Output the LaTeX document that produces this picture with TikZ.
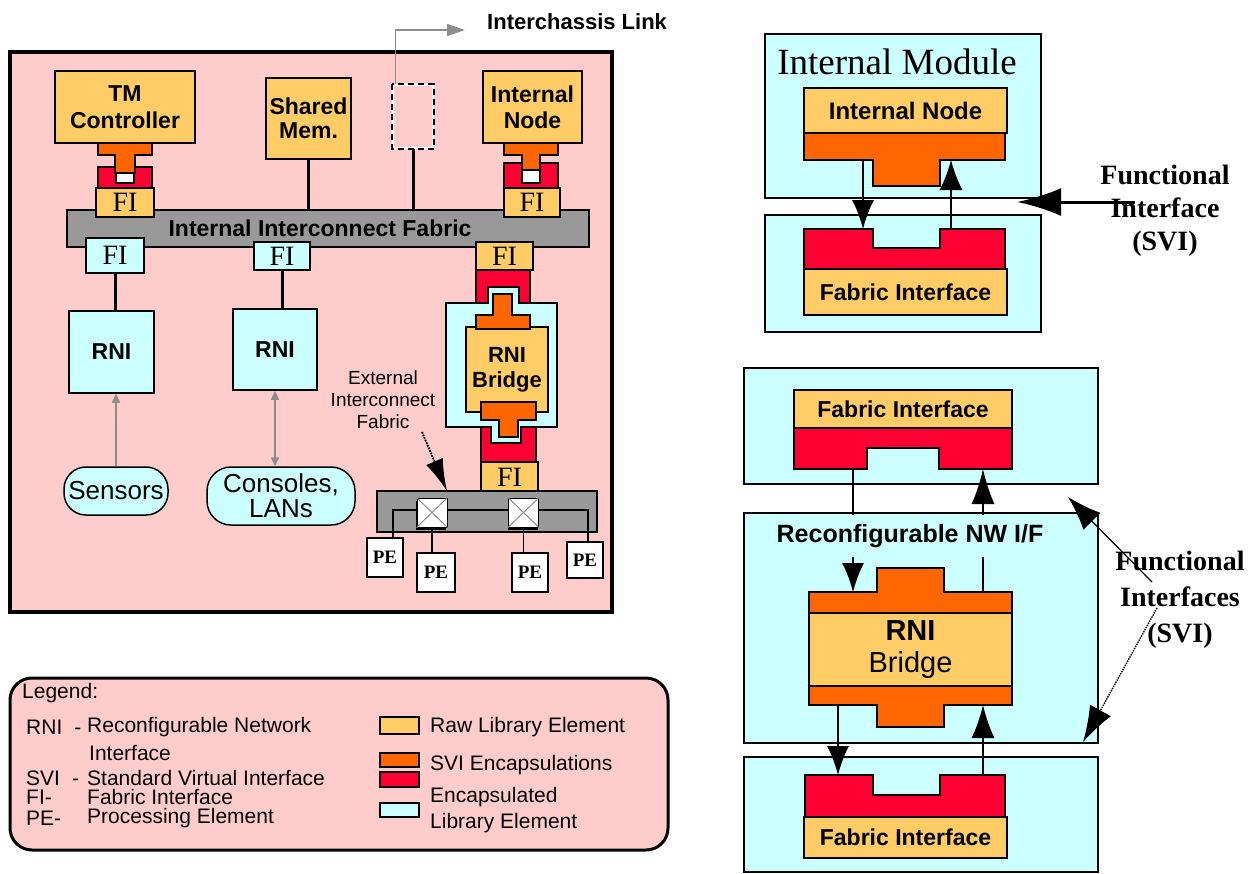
\documentclass[tikz,border=0pt]{standalone}
\usepackage{fontspec}
\setmainfont{Liberation Serif}
\setsansfont{Liberation Sans}
\usetikzlibrary{arrows.meta,calc,shadows}

\definecolor{chassis}{RGB}{255,204,204}
\definecolor{rawlib}{RGB}{255,204,102}
\definecolor{svio}{RGB}{255,102,0}
\definecolor{svir}{RGB}{255,0,51}
\definecolor{encap}{RGB}{204,255,255}
\definecolor{fabgrey}{RGB}{153,153,153}
\definecolor{linkgrey}{RGB}{140,140,140}

\newcommand{\setfsz}[2]{\fontsize{#1}{#2}\selectfont}

\tikzset{
  blk/.style={draw, line width=1.5pt, inner sep=0pt, align=center},
  dims/.style 2 args={minimum width=#1pt, minimum height=#2pt},
  rawbox/.style={blk, fill=rawlib},
  encbox/.style={blk, fill=encap},
  greybar/.style={blk, fill=fabgrey},
  pebox/.style={blk, fill=white, font=\bfseries\setfsz{19}{19}},
  swbox/.style={blk, fill=white, line width=1pt, dims={30}{29},
    general shadow={fill=black, shadow xshift=-1pt, shadow yshift=-2.5pt}},
  boldlbl/.style={font=\sffamily\bfseries\setfsz{23}{27}},
  plainlbl/.style={font=\sffamily\setfsz{26}{25}},
  filbl/.style={font=\setfsz{28}{28}},
  wideboldlbl/.style={font=\sffamily\bfseries\setfsz{23}{23}},
  svishape/.style={draw, line width=1.5pt, fill=svio},
  redshape/.style={draw, line width=1.5pt, fill=svir},
  wire/.style={line width=3pt},
  thinwire/.style={line width=1.5pt},
  greyarrow/.style={draw=linkgrey, line width=1.5pt, -{Triangle[length=9pt,width=8pt]}},
  bighead/.style={line width=1.5pt, -{Latex[length=29pt,width=22pt]}},
  legtext/.style={font=\sffamily\setfsz{21}{21}, anchor=west, inner sep=0pt},
  swatch/.style={blk},
  fnlbl/.style={font=\bfseries\setfsz{28}{33}, align=center, inner sep=0pt},
}

\begin{document}
\begin{tikzpicture}[x=1pt,y=-1pt]
\useasboundingbox (0,0) rectangle (1252,873);
\fill[white] (0,0) rectangle (1252,873);

%% ================= chassis =================
\node[draw, line width=4pt, fill=chassis, inner sep=0pt, dims={602}{560}] (chassis) at (311,332) {};

% interchassis link placeholder
\node[draw=white, line width=1.5pt, inner sep=0pt, dims={40}{63}] (xlink) at (413,116.5) {};
\draw[line width=1.8pt, dash pattern=on 6pt off 4pt] (xlink.north west) rectangle (xlink.south east);
\coordinate (xlinkEnd) at (465,30);
\draw[greyarrow, -{Triangle[length=18pt,width=12pt]}] ($(xlink.north west)+(3,0)$) |- (xlinkEnd);
\node[font=\sffamily\bfseries\setfsz{22}{22}, anchor=west, inner sep=0pt] (xlinklbl) at (487,22) {Interchassis Link};

% library elements on the internal fabric
\node[rawbox, dims={140}{72}, boldlbl] (tmc) at (125,107) {TM\\Controller};
\node[rawbox, dims={85}{81}, font=\sffamily\bfseries\setfsz{23}{24}] (shm) at (308.5,118.5) {Shared\\Mem.};
\node[rawbox, dims={99}{72}, font=\sffamily\bfseries\setfsz{23}{26}] (inodeL) at (532.5,107) {Internal\\Node};

\node[greybar, dims={522}{37}, wideboldlbl] (ifab) at (328,228.5) {\hspace*{-16pt}Internal Interconnect Fabric};

\draw[wire] (shm.south) -- (shm.south |- ifab.north);
\draw[wire] (xlink.south) -- (xlink.south |- ifab.north);

% SVI stack under the TM controller
\fill[white] (116,167) rectangle (134,183);
\draw[redshape] (98,167) -- (116,167) -- (116,183) -- (134,183) -- (134,167) -- (152,167) -- (152,188) -- (98,188) -- cycle;
\draw[svishape] (98,143) -- (152,143) -- (152,155) -- (135,155) -- (135,173) -- (115,173) -- (115,155) -- (98,155) -- cycle;
\node[rawbox, dims={58}{29}, filbl] (fiTM) at (125,202.5) {FI};

% SVI stack under the internal node
\fill[white] (522,163) rectangle (540,183);
\draw[redshape] (504,163) -- (522,163) -- (522,183) -- (540,183) -- (540,163) -- (558,163) -- (558,190) -- (504,190) -- cycle;
\draw[svishape] (504,143) -- (558,143) -- (558,155) -- (540,155) -- (540,170) -- (522,170) -- (522,155) -- (504,155) -- cycle;
\node[rawbox, dims={56}{29}, filbl] (fiIN) at (532,202.5) {FI};

% fabric interfaces below the bar
\node[encbox, dims={58}{35}, filbl] (fiS) at (115,255.5) {FI};
\node[encbox, dims={56}{28}, filbl] (fiC) at (282,256) {FI};

% RNIs and their peripherals
\node[encbox, dims={85}{82}, boldlbl] (rniS) at (111.5,352) {RNI};
\node[encbox, dims={84}{81}, boldlbl] (rniC) at (275,349.5) {RNI};
\draw[wire] (fiS.south) -- (fiS.south |- rniS.north);
\draw[wire] (fiC.south) -- (fiC.south |- rniC.north);

\node[encbox, rounded corners=22pt, dims={104}{48}, plainlbl] (sensors) at (116,491) {Sensors};
\node[encbox, rounded corners=24pt, dims={148}{58}, plainlbl] (consoles) at (281,496) {Consoles,\\LANs};
\draw[greyarrow] (sensors.north) -- (sensors.north |- rniS.south);
\draw[greyarrow, {Triangle[length=9pt,width=8pt]}-{Triangle[length=9pt,width=8pt]}] (consoles.north -| rniC.south) -- (rniC.south);

% RNI bridge column
\node[rawbox, dims={57}{28}, filbl] (fiB) at (504.5,256) {FI};
\draw[redshape] (476,270) rectangle (530,305);
\draw[redshape] (481,425) rectangle (536,462);
\draw[line width=1.5pt, fill=encap] (446,303) -- (488,303) -- (488,287) -- (519,287) -- (519,303) -- (557,303) -- (557,427) -- (521,427) -- (521,443) -- (491,443) -- (491,427) -- (446,427) -- cycle;
\node[rawbox, dims={82}{85}, font=\sffamily\bfseries\setfsz{22}{25}] (bridgeL) at (507,369.5) {RNI\\Bridge};
\draw[svishape] (493,294) -- (512,294) -- (512,315) -- (530,315) -- (530,329) -- (476,329) -- (476,315) -- (493,315) -- cycle;
\draw[svishape] (481,402) -- (536,402) -- (536,420) -- (518,420) -- (518,437) -- (499,437) -- (499,420) -- (481,420) -- cycle;
\node[rawbox, dims={57}{31}, filbl] (fiE) at (509.5,477.5) {FI};

% external interconnect fabric
\node[greybar, dims={220}{41}] (xfab) at (487,511.5) {};
\node[pebox, dims={36}{39}] (pe1) at (385,557.5) {PE};
\node[pebox, dims={38}{39}] (pe2) at (436,572.5) {PE};
\node[pebox, dims={36}{39}] (pe3) at (530,572.5) {PE};
\node[pebox, dims={36}{36}] (pe4) at (585,560) {PE};
\coordinate (xwL) at (393,510);
\coordinate (xwR) at (588,510);
\draw[thinwire] (pe1.north -| xwL) |- (xwR) -- (xwR |- pe4.north);
\node[swbox] (sw1) at (432,512.5) {};
\node[swbox] (sw2) at (523.5,512.5) {};
\draw[linkgrey, line width=1pt] (sw1.north west) -- (sw1.south east) (sw1.north east) -- (sw1.south west);
\draw[linkgrey, line width=1pt] (sw2.north west) -- (sw2.south east) (sw2.north east) -- (sw2.south west);
\draw[thinwire] (sw1.south) -- (sw1.south |- pe2.north);
\draw[thinwire] (sw2.south) -- (sw2.south |- pe3.north);

\node[font=\sffamily\setfsz{19}{22}, align=center] (xfablbl) at (383,400) {External\\Interconnect\\Fabric};
\coordinate (xfabTail) at (422,432);
\coordinate (xfabTip) at (447,491);
\draw[line width=1.8pt, densely dotted, -{Latex[length=32pt,width=18pt]}] (xfabTail) -- (xfabTip);

%% ================= legend =================
\node[draw, line width=3pt, fill=chassis, rounded corners=22pt, inner sep=0pt, dims={658}{172}] (legend) at (339,764) {};
\node[legtext] (lgTitle) at (22,693) {Legend:};
\node[legtext] (lgRNI) at (26,727) {RNI\hspace{12pt}-};
\node[legtext] (lgRNId) at (87,727) {Reconfigurable Network};
\node[legtext] (lgRNId2) at (89,753) {Interface};
\node[legtext] (lgSVI) at (26,778) {SVI\hspace{12pt}-};
\node[legtext] (lgSVId) at (87,778) {Standard Virtual Interface};
\node[legtext] (lgFI) at (26,797) {FI-};
\node[legtext] (lgFId) at (87,797) {Fabric Interface};
\node[legtext] (lgPE) at (26,818) {PE-};
\node[legtext] (lgPEd) at (87,818) {Processing Element};
\node[swatch, fill=rawlib, dims={39}{17}] (swRaw) at (399.5,725.5) {};
\node[swatch, fill=svio, dims={39}{14}] (swSVIo) at (399.5,760) {};
\node[swatch, fill=svir, dims={39}{15}] (swSVIr) at (399.5,779.5) {};
\node[swatch, fill=encap, dims={39}{14}] (swEnc) at (399.5,810) {};
\node[legtext] (lgRaw) at (430,727) {Raw Library Element};
\node[legtext] (lgSVIe) at (430,765) {SVI Encapsulations};
\node[legtext] (lgEnc1) at (430,797) {Encapsulated};
\node[legtext] (lgEnc2) at (430,823) {Library Element};

%% ================= internal module =================
\node[encbox, dims={276}{164}] (imod) at (903,116) {};
\node[font=\setfsz{37}{37}, inner sep=0pt] (imodlbl) at (897,62) {Internal Module};
\node[rawbox, dims={203}{45}, font=\sffamily\bfseries\setfsz{24}{24}] (inodeR) at (905.5,110.5) {Internal Node};
\draw[svishape] (804,133) -- (1005,133) -- (1005,160) -- (940,160) -- (940,186) -- (873,186) -- (873,160) -- (804,160) -- cycle;

\node[encbox, dims={276}{117}] (fmod) at (903,273.5) {};
\draw[redshape] (804,229) -- (873,229) -- (873,248) -- (940,248) -- (940,229) -- (1005,229) -- (1005,269) -- (804,269) -- cycle;
\node[rawbox, dims={203}{46}, font=\sffamily\bfseries\setfsz{23}{23}] (fiR1) at (905.5,292) {Fabric Interface};

\coordinate (imDownS) at (863,160);
\coordinate (imDownE) at (863,229);
\coordinate (imUpS) at (951,229);
\coordinate (imUpE) at (951,160);
\draw[bighead] (imDownS) -- (imDownE);
\draw[bighead, -{Latex[length=30pt,width=23pt]}] (imUpS) -- (imUpE);

\coordinate (fiTail) at (1135,202);
\coordinate (fiTip) at (1017,202);
\draw[line width=3pt, -{Latex[length=44pt,width=28pt]}] (fiTail) -- (fiTip);
\node[fnlbl] (fnlblA) at (1165,211) {Functional\\Interface\\(SVI)};

%% ================= reconfigurable network interface =================
\node[encbox, dims={354}{116}] (bTop) at (921,426) {};
\node[rawbox, dims={218}{38}, font=\sffamily\bfseries\setfsz{23}{23}] (fiR2) at (903,409) {Fabric Interface};
\draw[redshape] (794,428) -- (1012,428) -- (1012,469) -- (939,469) -- (939,448) -- (867,448) -- (867,469) -- (794,469) -- cycle;

\node[encbox, dims={354}{230}] (bMid) at (921,628) {};
\node[rawbox, dims={203}{73}, font=\sffamily\setfsz{29}{32}] (bridgeR) at (910.5,649.5) {\textbf{RNI}\\Bridge};
\draw[svishape] (809,592) -- (877,592) -- (877,568) -- (944,568) -- (944,592) -- (1012,592) -- (1012,613) -- (809,613) -- cycle;
\draw[svishape] (809,686) -- (1012,686) -- (1012,705) -- (944,705) -- (944,727) -- (877,727) -- (877,705) -- (809,705) -- cycle;

\node[encbox, dims={354}{115}] (bBot) at (921,814.5) {};
\draw[redshape] (805,775) -- (873,775) -- (873,795) -- (940,795) -- (940,775) -- (1005,775) -- (1005,817) -- (805,817) -- cycle;
\node[rawbox, dims={203}{41}, font=\sffamily\bfseries\setfsz{23}{23}] (fiR3) at (905.5,837.5) {Fabric Interface};

\coordinate (rnDownS) at (853,469);
\coordinate (rnDownE) at (853,592);
\coordinate (rnUpS) at (983,592);
\coordinate (rnUpE) at (983,469);
\coordinate (rbDownS) at (838,705);
\coordinate (rbDownE) at (838,775);
\coordinate (rbUpS) at (983,775);
\coordinate (rbUpE) at (983,705);
\draw[bighead] (rnDownS) -- (rnDownE);
\draw[bighead, -{Latex[length=35pt,width=23pt]}] (rnUpS) -- (rnUpE);
\draw[bighead] (rbDownS) -- (rbDownE);
\draw[bighead, -{Latex[length=33pt,width=23pt]}] (rbUpS) -- (rbUpE);

\node[fill=encap, inner xsep=2pt, inner ysep=0pt, minimum height=42pt, font=\sffamily\bfseries\setfsz{25}{25}] (rnwlbl) at (910,536) {Reconfigurable NW I/F};

\node[fnlbl, font=\bfseries\setfsz{28}{36}] (fnlblB) at (1180,600) {Functional\\Interfaces\\(SVI)};
\coordinate (fnA) at (1152,582);
\coordinate (fnAtip) at (1068,497);
\coordinate (fnB) at (1157,608);
\coordinate (fnBtip) at (1083,742);
\draw[line width=1.2pt, -{Latex[length=34pt,width=24pt]}] (fnA) -- (fnAtip);
\draw[line width=1.4pt, densely dotted, -{Latex[length=36pt,width=24pt]}] (fnB) -- (fnBtip);

\end{tikzpicture}
\end{document}
